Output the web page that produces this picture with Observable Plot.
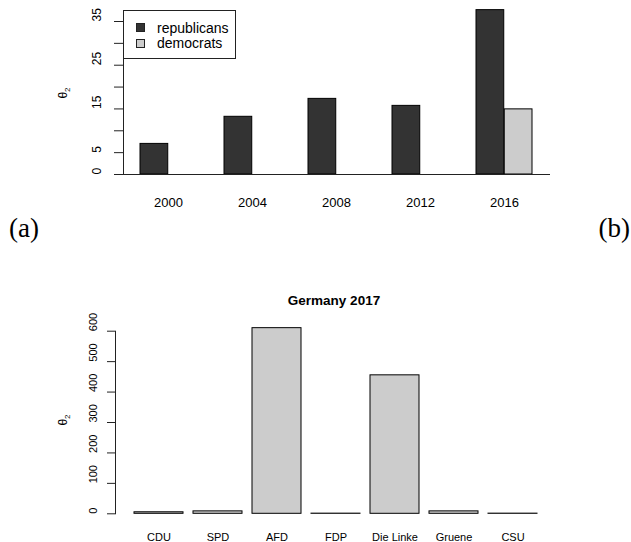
<!DOCTYPE html>
<html><head><meta charset="utf-8">
<script src="https://cdn.jsdelivr.net/npm/d3@7"></script>
<script src="https://cdn.jsdelivr.net/npm/@observablehq/plot@0.6"></script>
<style>
body{margin:0;background:#fff;}
#wrap{position:relative;width:631px;height:542px;font-family:"Liberation Sans",Arial,sans-serif;color:#000;}
.abs{position:absolute;white-space:nowrap;}
.ylab{font-size:12px;transform:translate(-50%,-50%) rotate(-90deg);}
.ylab sub{font-size:8px;}
.panel{font-family:"Liberation Serif",serif;font-size:27px;line-height:1;}
</style></head><body><div id="wrap"></div>
<script>
// ---- data: top chart ----
const years = ["2000", "2004", "2008", "2012", "2016"];
const republicans = [7, 13.2, 17.3, 15.7, 37.6];
const democrats = [0, 0, 0, 0, 14.9];
const seriesNames = ["republicans", "democrats"];
const seriesColors = ["#333333", "#cccccc"];
const topTicks = [0, 5, 10, 15, 20, 25, 30, 35];
const topTickLabels = ["0", "5", "", "15", "", "25", "", "35"];

// ---- data: bottom chart ----
const parties = ["CDU", "SPD", "AFD", "FDP", "Die Linke", "Gruene", "CSU"];
const germany = [5, 8, 610, 0.5, 455, 8, 0.5];
const bottomTicks = [0, 100, 200, 300, 400, 500, 600];
const bottomTickLabels = ["0", "100", "200", "300", "400", "500", "600"];

const wrap = document.getElementById("wrap");
const font = '"Liberation Sans", Arial, sans-serif';

// ---------- top chart ----------
const topData = years.flatMap((y, i) => [
  {year: y, party: seriesNames[0], value: republicans[i]},
  {year: y, party: seriesNames[1], value: democrats[i]}
]);
const topRange = [138.7, 534.3];
const topBand = d3.scaleBand().domain(years).range(topRange).paddingInner(1/3).paddingOuter(0).bandwidth();
const topPlot = Plot.plot({
  width: 631, height: 215,
  marginLeft: 123, marginRight: 81, marginTop: 21, marginBottom: 41,
  style: {fontFamily: font, background: "transparent", overflow: "visible"},
  x: {type: "band", domain: years, range: topRange, paddingInner: 1/3, paddingOuter: 0, label: null},
  y: {domain: [0, 35], label: null},
  color: {domain: seriesNames, range: seriesColors},
  marks: [
    Plot.barY(topData.filter(d => d.party === seriesNames[0]), {x: "year", y: "value", fill: "party", stroke: "black", strokeWidth: 1, insetRight: topBand / 2}),
    Plot.barY(topData.filter(d => d.party === seriesNames[1]), {x: "year", y: "value", fill: "party", stroke: "black", strokeWidth: 1, insetLeft: topBand / 2}),
    Plot.ruleY([0], {stroke: "#222", strokeWidth: 1}),
    Plot.frame({anchor: "left", stroke: "#222"}),
    Plot.axisY(topTicks, {tickSize: 9, tickFormat: () => "", label: null, stroke: "#222"}),
    Plot.text(topTicks, {y: d => d, text: (d, i) => topTickLabels[i], frameAnchor: "left", dx: -26, rotate: -90, fontSize: 12}),
    Plot.axisX({tickSize: 0, tickPadding: 23, fontSize: 13, label: null})
  ]
});
topPlot.style.position = "absolute";
topPlot.style.left = "0px";
topPlot.style.top = "0px";
wrap.appendChild(topPlot);

// legend (top-left box)
const legend = document.createElement("div");
legend.className = "abs";
legend.style.cssText = "left:123px;top:10px;width:111px;height:47px;border:1px solid #222;background:#fff;";
seriesNames.forEach((name, i) => {
  const sw = document.createElement("div");
  sw.className = "abs";
  sw.style.cssText = `left:12px;top:${12 + i * 15.5}px;width:9px;height:9px;border:1px solid #222;box-sizing:border-box;background:${seriesColors[i]};`;
  legend.appendChild(sw);
  const tx = document.createElement("div");
  tx.className = "abs";
  tx.textContent = name;
  tx.style.cssText = `left:33px;top:${16.5 + i * 15.5}px;transform:translateY(-50%);font-size:14px;line-height:1;`;
  legend.appendChild(tx);
});
wrap.appendChild(legend);

// ---------- bottom chart ----------
const bottomTop = 280;
const bottomData = parties.map((p, i) => ({party: p, value: germany[i]}));
const bottomPlot = Plot.plot({
  width: 631, height: 262,
  marginLeft: 115, marginRight: 76, marginTop: 50.7, marginBottom: 28.7,
  style: {fontFamily: font, background: "transparent", overflow: "visible"},
  x: {type: "band", domain: parties, range: [130.7, 540], paddingInner: 1/6, paddingOuter: 0, label: null},
  y: {domain: [0, 600], label: null},
  marks: [
    Plot.barY(bottomData, {x: "party", y: "value", fill: "#cccccc", stroke: "black", strokeWidth: 1}),
    Plot.frame({anchor: "left", stroke: "#222"}),
    Plot.axisY(bottomTicks, {tickSize: 8, tickFormat: () => "", label: null, stroke: "#222"}),
    Plot.text(bottomTicks, {y: d => d, text: (d, i) => bottomTickLabels[i], frameAnchor: "left", dx: -22, rotate: -90, fontSize: 11}),
    Plot.axisX({tickSize: 0, tickPadding: 19, fontSize: 11, label: null})
  ]
});
bottomPlot.style.position = "absolute";
bottomPlot.style.left = "0px";
bottomPlot.style.top = bottomTop + "px";
wrap.appendChild(bottomPlot);

// ---------- text overlays ----------
function addText(html, css, cls) {
  const el = document.createElement("div");
  el.className = "abs " + (cls || "");
  el.innerHTML = html;
  el.style.cssText += css;
  wrap.appendChild(el);
  return el;
}
addText("θ<sub>2</sub>", "left:64px;top:92.5px;", "ylab");
addText("θ<sub>2</sub>", "left:64px;top:420px;", "ylab");
addText("Germany 2017", "left:334px;top:300px;transform:translate(-50%,-50%);font-weight:bold;font-size:13.5px;");
addText("(a)", "left:9px;top:215px;", "panel");
addText("(b)", "right:1px;top:215px;", "panel");
</script>
</body></html>
